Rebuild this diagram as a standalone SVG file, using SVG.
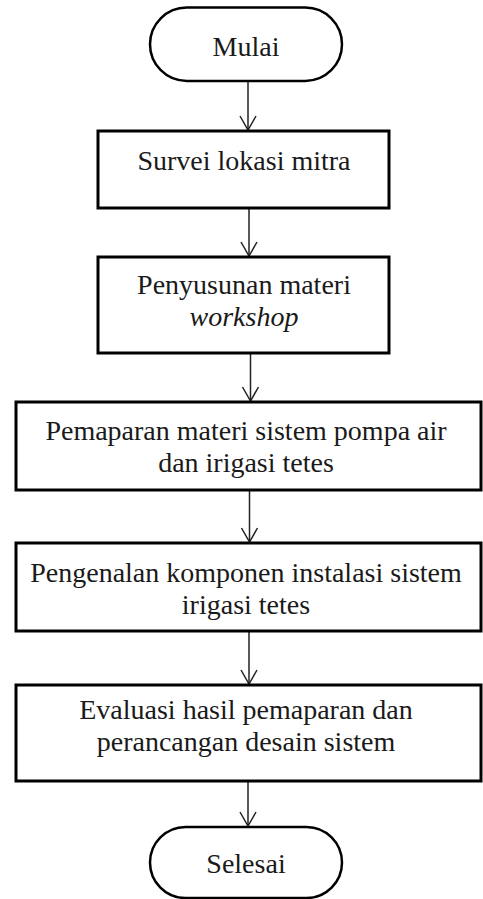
<svg xmlns="http://www.w3.org/2000/svg" width="483" height="899" viewBox="0 0 483 899">
<defs>
<style>
.box{fill:#fff;stroke:#000;stroke-width:3}
.term{fill:#fff;stroke:#000;stroke-width:2.5}
.t{font-family:"Liberation Serif","Times New Roman",serif;font-size:28px;fill:#1a1a1a;text-anchor:middle}
.i{font-style:italic}
.c{fill:none;stroke:#222;stroke-width:1.5}
</style>
<marker id="arr" viewBox="0 0 20 20" refX="16" refY="10" markerWidth="20" markerHeight="20" markerUnits="userSpaceOnUse" orient="auto">
<path d="M2,2 L16,10 L2,18" fill="none" stroke="#222" stroke-width="1.5"/>
</marker>
</defs>
<rect width="483" height="899" fill="#fff"/>
<g id="connectors">
<line class="c" x1="248" y1="81" x2="248" y2="130" marker-end="url(#arr)"/>
<line class="c" x1="249" y1="208" x2="249" y2="256" marker-end="url(#arr)"/>
<line class="c" x1="250.5" y1="353" x2="250.5" y2="401" marker-end="url(#arr)"/>
<line class="c" x1="249.5" y1="490" x2="249.5" y2="542" marker-end="url(#arr)"/>
<line class="c" x1="249" y1="631" x2="249" y2="684" marker-end="url(#arr)"/>
<line class="c" x1="248" y1="781" x2="248" y2="826" marker-end="url(#arr)"/>
</g>
<g id="start">
<rect class="term" x="150" y="7.5" width="192" height="73.5" rx="36.75" ry="36.75"/>
<text class="t" x="246" y="56">Mulai</text>
</g>
<g id="survei">
<rect class="box" x="98" y="131" width="291" height="77"/>
<text class="t" x="244" y="170">Survei lokasi mitra</text>
</g>
<g id="penyusunan">
<rect class="box" x="98" y="257" width="291" height="96"/>
<text class="t" x="244" y="294">Penyusunan materi</text>
<text class="t i" x="244" y="326">workshop</text>
</g>
<g id="pemaparan">
<rect class="box" x="16" y="402" width="465" height="88"/>
<text class="t" x="246" y="440">Pemaparan materi sistem pompa air</text>
<text class="t" x="246" y="472">dan irigasi tetes</text>
</g>
<g id="pengenalan">
<rect class="box" x="16" y="543" width="465" height="88"/>
<text class="t" x="246" y="582">Pengenalan komponen instalasi sistem</text>
<text class="t" x="246" y="614">irigasi tetes</text>
</g>
<g id="evaluasi">
<rect class="box" x="16" y="685" width="465" height="96"/>
<text class="t" x="246" y="719">Evaluasi hasil pemaparan dan</text>
<text class="t" x="246" y="751">perancangan desain sistem</text>
</g>
<g id="end">
<rect class="term" x="150" y="827" width="192" height="71" rx="35.5" ry="35.5"/>
<text class="t" x="246" y="873">Selesai</text>
</g>
</svg>
